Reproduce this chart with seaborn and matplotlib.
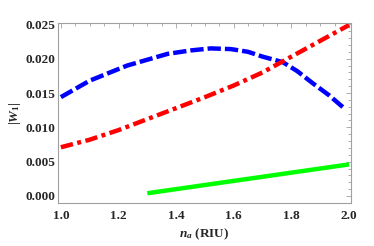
import matplotlib
matplotlib.use("Agg")
import matplotlib.pyplot as plt
import seaborn as sns
import pandas as pd
from matplotlib.ticker import MultipleLocator

# data
x_blue = [1.0, 1.1, 1.23, 1.37, 1.45, 1.52, 1.59, 1.65, 1.70, 1.77, 1.82, 1.875, 1.93, 1.98]
y_blue = [0.0144, 0.0168, 0.0190, 0.0207, 0.0212, 0.0215, 0.0214, 0.0210, 0.0203, 0.0195, 0.0182, 0.0164, 0.0147, 0.0129]
x_red = [1.0, 1.1, 1.2, 1.3, 1.4, 1.5, 1.6, 1.7, 1.8, 1.9, 2.0]
y_red = [0.0071, 0.0082, 0.0096, 0.0112, 0.0128, 0.0144, 0.0161, 0.0180, 0.0203, 0.0226, 0.0249]
x_green = [1.3, 2.0]
y_green = [0.0004, 0.0046]

sns.set_style("white")
plt.rcParams['font.family'] = ['Liberation Serif', 'DejaVu Serif']
plt.rcParams['font.weight'] = 'bold'
plt.rcParams['mathtext.fontset'] = 'custom'
plt.rcParams['mathtext.it'] = 'Liberation Serif:italic:bold'
plt.rcParams['mathtext.rm'] = 'Liberation Serif:bold'
plt.rcParams['mathtext.bf'] = 'Liberation Serif:bold'

fig = plt.figure(figsize=(3.74, 2.46), dpi=100)
ax = fig.add_axes([58/374, 43/246, (351-58)/374, (203-23)/246])

df_b = pd.DataFrame({"x": x_blue, "y": y_blue})
df_r = pd.DataFrame({"x": x_red, "y": y_red})
df_g = pd.DataFrame({"x": x_green, "y": y_green})

lw = 3.2
sns.lineplot(data=df_b, x="x", y="y", ax=ax, color=(0, 0, 1), lw=lw, sort=False)
ax.lines[-1].set_dashes([3.0, 0.9])
sns.lineplot(data=df_r, x="x", y="y", ax=ax, color=(1, 0, 0), lw=lw, sort=False)
ax.lines[-1].set_dashes([2.8, 1.0, 0.9, 1.0])
sns.lineplot(data=df_g, x="x", y="y", ax=ax, color=(0, 1, 0), lw=lw, sort=False)
for ln in ax.lines:
    ln.set_solid_capstyle('butt')
    ln.set_dash_capstyle('butt')

ax.set_xlim(0.99, 2.007)
ax.set_ylim(-0.00102, 0.0252)
ax.xaxis.set_major_locator(MultipleLocator(0.2))
ax.xaxis.set_minor_locator(MultipleLocator(0.05))
ax.yaxis.set_major_locator(MultipleLocator(0.005))
ax.yaxis.set_minor_locator(MultipleLocator(0.001))
ax.xaxis.set_major_formatter(matplotlib.ticker.FormatStrFormatter('%.1f'))
ax.yaxis.set_major_formatter(matplotlib.ticker.FormatStrFormatter('%.3f'))

frame_c = '#a0a0a0'
for s in ax.spines.values():
    s.set_color(frame_c)
    s.set_linewidth(0.8)
ax.tick_params(which='both', direction='in', top=True, right=True, color=frame_c, width=0.6)
ax.tick_params(which='major', length=3.5, labelsize=9.5)
ax.tick_params(which='minor', length=2)
ax.tick_params(axis='x', which='major', pad=5)
ax.tick_params(axis='y', which='major', pad=2)
for lab in ax.get_xticklabels() + ax.get_yticklabels():
    lab.set_fontweight('bold')

ax.set_xlabel(r'$n_a$ (RIU)', fontsize=9.5, fontweight='bold', labelpad=3)
ax.set_ylabel(r'$|W_1|$', fontsize=9.5, fontweight='bold', labelpad=2)

fig.savefig("out.png", dpi=100)
